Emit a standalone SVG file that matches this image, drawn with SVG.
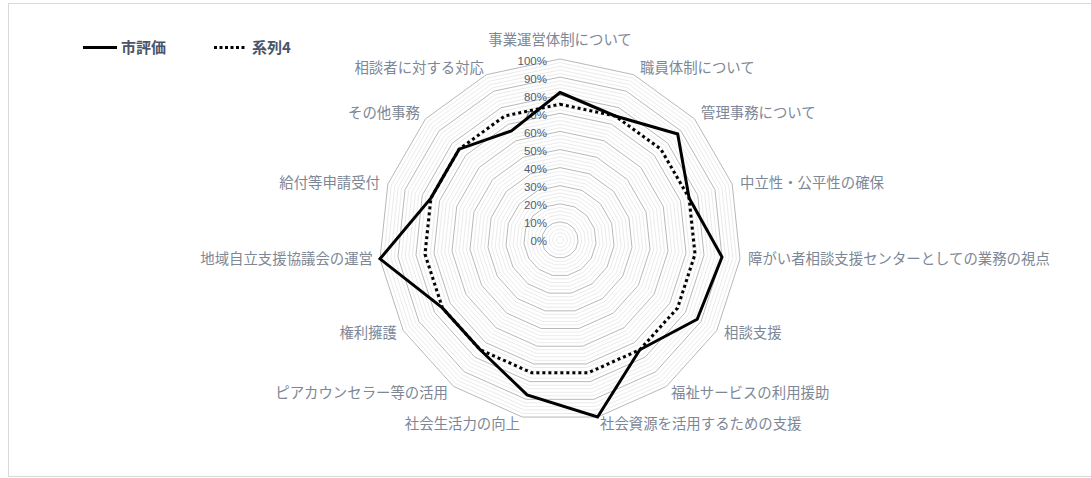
<svg xmlns="http://www.w3.org/2000/svg" xmlns:xlink="http://www.w3.org/1999/xlink" width="1091" height="478" viewBox="0 0 1091 478">
<style>
.cat{font-family:"Noto Sans CJK JP","Liberation Sans",sans-serif;font-size:14.4px;fill:#7d8796}
.pct{font-family:"Liberation Sans","Noto Sans CJK JP",sans-serif;font-size:11.5px;fill:#4f5d75;text-anchor:end}
.leg{font-family:"Noto Sans CJK JP","Liberation Sans",sans-serif;font-size:15px;font-weight:bold;fill:#4a5568}
.minor{fill:none;stroke:#e6e6e6;stroke-width:0.8}
.major{fill:none;stroke:#b0b0b0;stroke-width:0.9}
.s1{fill:none;stroke:#000;stroke-width:3;stroke-linejoin:miter}
.s2{fill:none;stroke:#000;stroke-width:3;stroke-dasharray:3 3}
</style>
<defs>
<polygon id="pg" vector-effect="non-scaling-stroke" points="0,-1 0.406737,-0.913545 0.743145,-0.669131 0.951057,-0.309017 0.994522,0.104528 0.866025,0.5 0.587785,0.809017 0.207912,0.978148 -0.207912,0.978148 -0.587785,0.809017 -0.866025,0.5 -0.994522,0.104528 -0.951057,-0.309017 -0.743145,-0.669131 -0.406737,-0.913545"/>
</defs>
<rect x="0" y="0" width="1091" height="478" fill="#fff"/>
<rect x="8.5" y="3.5" width="1090" height="473" fill="none" stroke="#d9d9d9" stroke-width="1"/>
<g id="grid" transform="translate(560,240)">
<g class="minor">
<use xlink:href="#pg" transform="scale(3.62)"/><use xlink:href="#pg" transform="scale(7.24)"/><use xlink:href="#pg" transform="scale(10.86)"/><use xlink:href="#pg" transform="scale(14.48)"/>
<use xlink:href="#pg" transform="scale(21.72)"/><use xlink:href="#pg" transform="scale(25.34)"/><use xlink:href="#pg" transform="scale(28.96)"/><use xlink:href="#pg" transform="scale(32.58)"/>
<use xlink:href="#pg" transform="scale(39.82)"/><use xlink:href="#pg" transform="scale(43.44)"/><use xlink:href="#pg" transform="scale(47.06)"/><use xlink:href="#pg" transform="scale(50.68)"/>
<use xlink:href="#pg" transform="scale(57.92)"/><use xlink:href="#pg" transform="scale(61.54)"/><use xlink:href="#pg" transform="scale(65.16)"/><use xlink:href="#pg" transform="scale(68.78)"/>
<use xlink:href="#pg" transform="scale(76.02)"/><use xlink:href="#pg" transform="scale(79.64)"/><use xlink:href="#pg" transform="scale(83.26)"/><use xlink:href="#pg" transform="scale(86.88)"/>
<use xlink:href="#pg" transform="scale(94.12)"/><use xlink:href="#pg" transform="scale(97.74)"/><use xlink:href="#pg" transform="scale(101.36)"/><use xlink:href="#pg" transform="scale(104.98)"/>
<use xlink:href="#pg" transform="scale(112.22)"/><use xlink:href="#pg" transform="scale(115.84)"/><use xlink:href="#pg" transform="scale(119.46)"/><use xlink:href="#pg" transform="scale(123.08)"/>
<use xlink:href="#pg" transform="scale(130.32)"/><use xlink:href="#pg" transform="scale(133.94)"/><use xlink:href="#pg" transform="scale(137.56)"/><use xlink:href="#pg" transform="scale(141.18)"/>
<use xlink:href="#pg" transform="scale(148.42)"/><use xlink:href="#pg" transform="scale(152.04)"/><use xlink:href="#pg" transform="scale(155.66)"/><use xlink:href="#pg" transform="scale(159.28)"/>
<use xlink:href="#pg" transform="scale(166.52)"/><use xlink:href="#pg" transform="scale(170.14)"/><use xlink:href="#pg" transform="scale(173.76)"/><use xlink:href="#pg" transform="scale(177.38)"/>
</g>
<g class="major">
<use xlink:href="#pg" transform="scale(18.1)"/><use xlink:href="#pg" transform="scale(36.2)"/><use xlink:href="#pg" transform="scale(54.3)"/><use xlink:href="#pg" transform="scale(72.4)"/><use xlink:href="#pg" transform="scale(90.5)"/>
<use xlink:href="#pg" transform="scale(108.6)"/><use xlink:href="#pg" transform="scale(126.7)"/><use xlink:href="#pg" transform="scale(144.8)"/><use xlink:href="#pg" transform="scale(162.9)"/><use xlink:href="#pg" transform="scale(181)"/>
</g>
</g>
<g id="axis-labels">
<text class="pct" x="547" y="65">100%</text>
<text class="pct" x="547" y="83">90%</text>
<text class="pct" x="547" y="101">80%</text>
<text class="pct" x="547" y="119">70%</text>
<text class="pct" x="547" y="137">60%</text>
<text class="pct" x="547" y="155">50%</text>
<text class="pct" x="547" y="173">40%</text>
<text class="pct" x="547" y="191">30%</text>
<text class="pct" x="547" y="209">20%</text>
<text class="pct" x="547" y="227">10%</text>
<text class="pct" x="547" y="245">0%</text>
</g>
<g id="connectors">
<polygon id="series-4" class="s2" points="560,104.25 615.2,116 660.9,149.2 689.1,198.1 695,254.2 677.6,307.9 639.8,349.8 588.2,372.8 531.8,372.8 480.2,349.8 442.4,307.9 425,254.2 430.9,198.1 459.1,149.2 504.8,116"/>
<polygon id="series-city" class="s1" points="560,92.5 615.2,116 677.7,134 689.1,198.1 722,257 697.2,319.2 639.8,349.8 597.6,417 527.1,394.9 480.2,349.8 442.4,307.9 380,258.9 430.9,198.1 459.1,149.2 511.4,130.9"/>
</g>
<g id="cat-labels">
<text id="c0" class="cat" x="560" y="45" text-anchor="middle">事業運営体制について</text>
<text id="c1" class="cat" x="640" y="73">職員体制について</text>
<text id="c2" class="cat" x="701" y="118">管理事務について</text>
<text id="c3" class="cat" x="740" y="188">中立性・公平性の確保</text>
<text id="c4" class="cat" x="748" y="264">障がい者相談支援センターとしての業務の視点</text>
<text id="c5" class="cat" x="724" y="338">相談支援</text>
<text id="c6" class="cat" x="671" y="398">福祉サービスの利用援助</text>
<text id="c7" class="cat" x="600" y="429">社会資源を活用するための支援</text>
<text id="c8" class="cat" x="520" y="429" text-anchor="end">社会生活力の向上</text>
<text id="c9" class="cat" x="448" y="398" text-anchor="end">ピアカウンセラー等の活用</text>
<text id="c10" class="cat" x="397" y="338" text-anchor="end">権利擁護</text>
<text id="c11" class="cat" x="373" y="264" text-anchor="end">地域自立支援協議会の運営</text>
<text id="c12" class="cat" x="380" y="188" text-anchor="end">給付等申請受付</text>
<text id="c13" class="cat" x="420" y="118" text-anchor="end">その他事務</text>
<text id="c14" class="cat" x="484" y="73" text-anchor="end">相談者に対する対応</text>
</g>
<g id="legend">
<line x1="83" y1="47.5" x2="117" y2="47.5" stroke="#000" stroke-width="3"/>
<text class="leg" x="121" y="53">市評価</text>
<line x1="214" y1="47.5" x2="245" y2="47.5" stroke="#000" stroke-width="3" stroke-dasharray="3 2.5"/>
<text class="leg" x="252" y="53">系列4</text>
</g>
</svg>
